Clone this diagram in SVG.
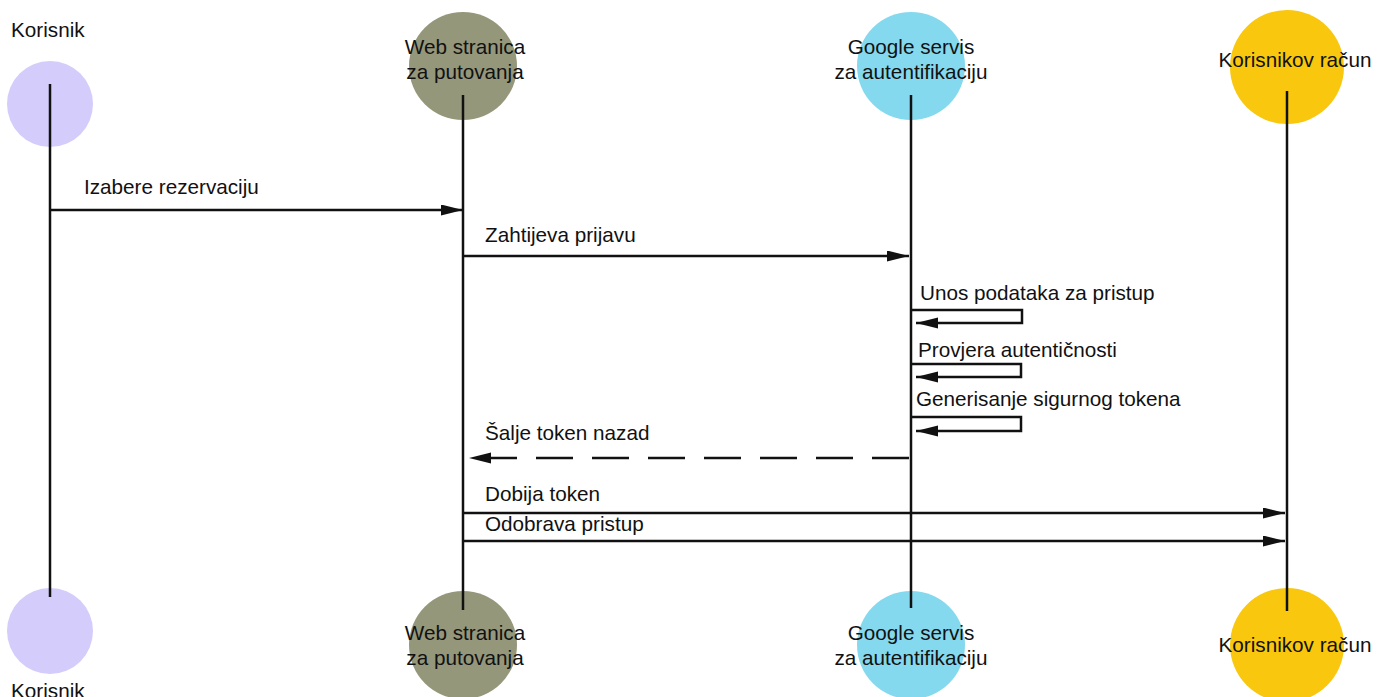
<svg xmlns="http://www.w3.org/2000/svg" width="1389" height="697" viewBox="0 0 1389 697">
<style>
text{font-family:"Liberation Sans",Arial,sans-serif;font-size:20.7px;fill:#111}
.c{text-anchor:middle}
.life{stroke:#111;stroke-width:2.5;fill:none}
.msg{stroke:#111;stroke-width:2.5;fill:none}
.dash{stroke-dasharray:37 19}
</style>
<defs>
<marker id="ah" markerUnits="userSpaceOnUse" markerWidth="24" markerHeight="12" refX="22" refY="5.5" orient="auto">
<path d="M0,0 L22,5.5 L0,11 z" fill="#111"/>
</marker>
</defs>
<rect width="1389" height="697" fill="#fff"/>
<g id="korisnik">
<circle cx="50" cy="104" r="43" fill="#d4cdfb"/>
<circle cx="50" cy="631" r="43" fill="#d4cdfb"/>
<text x="11" y="37">Korisnik</text>
<text x="11" y="698">Korisnik</text>
</g>
<g id="web">
<circle cx="463" cy="66" r="54" fill="#95977b"/>
<circle cx="463" cy="645" r="54" fill="#95977b"/>
<text class="c" x="465" y="54">Web stranica</text>
<text class="c" x="465" y="79">za putovanja</text>
<text class="c" x="465" y="640">Web stranica</text>
<text class="c" x="465" y="665">za putovanja</text>
</g>
<g id="google">
<circle cx="911" cy="66" r="54" fill="#84d9ee"/>
<circle cx="911" cy="645" r="54" fill="#84d9ee"/>
<text class="c" x="911" y="54">Google servis</text>
<text class="c" x="911" y="79">za autentifikaciju</text>
<text class="c" x="911" y="640">Google servis</text>
<text class="c" x="911" y="665">za autentifikaciju</text>
</g>
<g id="racun">
<circle cx="1287" cy="67" r="57" fill="#f8c70e"/>
<circle cx="1287" cy="645" r="57" fill="#f8c70e"/>
<text class="c" x="1295" y="67">Korisnikov račun</text>
<text class="c" x="1295" y="652">Korisnikov račun</text>
</g>
<g id="lifelines">
<line class="life" x1="50" y1="84" x2="50" y2="597"/>
<line class="life" x1="463" y1="95" x2="463" y2="610"/>
<line class="life" x1="911" y1="95" x2="911" y2="608"/>
<line class="life" x1="1287" y1="91" x2="1287" y2="611"/>
</g>
<g id="connectors">
<line class="msg" x1="50" y1="210" x2="463" y2="210" marker-end="url(#ah)"/>
<line class="msg" x1="463" y1="256" x2="909" y2="256" marker-end="url(#ah)"/>
<polyline class="msg" points="911,310 1022,310 1022,323 916,323" marker-end="url(#ah)"/>
<polyline class="msg" points="911,364 1021,364 1021,377 916,377" marker-end="url(#ah)"/>
<polyline class="msg" points="911,417 1021,417 1021,431 916,431" marker-end="url(#ah)"/>
<line class="msg dash" x1="909" y1="458" x2="469" y2="458" marker-end="url(#ah)"/>
<line class="msg" x1="463" y1="513" x2="1285" y2="513" marker-end="url(#ah)"/>
<line class="msg" x1="463" y1="541" x2="1285" y2="541" marker-end="url(#ah)"/>
</g>
<g id="labels">
<text x="84" y="194">Izabere rezervaciju</text>
<text x="485" y="242">Zahtijeva prijavu</text>
<text x="920" y="300">Unos podataka za pristup</text>
<text x="918" y="357">Provjera autentičnosti</text>
<text x="916" y="406">Generisanje sigurnog tokena</text>
<text x="485" y="440">Šalje token nazad</text>
<text x="485" y="501">Dobija token</text>
<text x="485" y="531">Odobrava pristup</text>
</g>
</svg>
